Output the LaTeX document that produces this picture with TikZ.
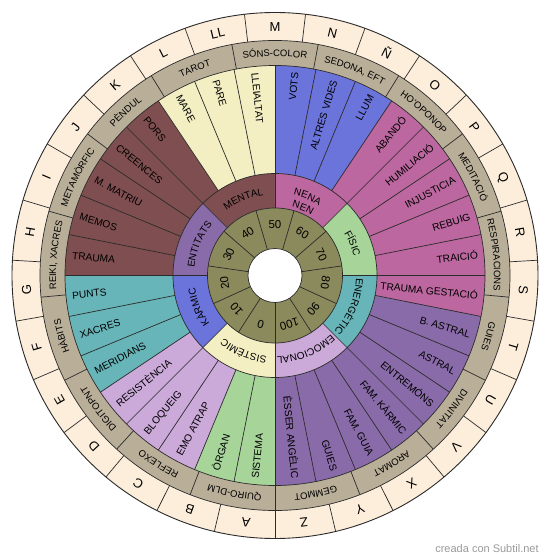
\documentclass[tikz,border=0pt]{standalone}
\usepackage{fontspec}
\setmainfont{Liberation Sans}
\usetikzlibrary{decorations.text}
\definecolor{letc}{HTML}{FCEEDB}
\definecolor{beigec}{HTML}{B9AE98}
\definecolor{creamc}{HTML}{F3EFC2}
\definecolor{maroonc}{HTML}{7F4E50}
\definecolor{bluec}{HTML}{6B74DB}
\definecolor{magc}{HTML}{BC679F}
\definecolor{purc}{HTML}{8A6BA9}
\definecolor{greenc}{HTML}{A6D499}
\definecolor{lilacc}{HTML}{CBA9D9}
\definecolor{tealc}{HTML}{68B5B9}
\definecolor{olivec}{HTML}{8B8A5D}
\definecolor{linec}{HTML}{2B2B2B}
\definecolor{wmc}{HTML}{9A9A9A}
\newcommand{\annseg}[5]{\fill[#1] (#4:#2pt) arc[start angle=#4,end angle=#5,radius=#2pt] -- (#5:#3pt) arc[start angle=#5,end angle=#4,radius=#3pt] -- cycle;}
\newcommand{\bfnt}{\fontsize{9.5}{9.5}\selectfont}
\newcommand{\mfnt}{\fontsize{10}{10}\selectfont}
\newcommand{\arclabel}[4]{\path[decorate,decoration={text along path,text align=center,text color=black,text={#4}}] ({#1+#3}:#2pt) arc[start angle={#1+#3},end angle={#1-#3},radius=#2pt];}
\tikzset{
  ln/.style={draw=linec,line width=0.7pt},
  letf/.style={font=\fontsize{13}{13}\selectfont,inner sep=0pt,text height=9.3pt,text depth=0pt},
  secf/.style={font=\fontsize{10.2}{10.2}\selectfont,inner sep=0pt,text height=7.3pt,text depth=0pt},
  numf/.style={font=\fontsize{11.5}{11.5}\selectfont,inner sep=0pt,text height=8.2pt,text depth=0pt},
  wmf/.style={font=\fontsize{11}{11}\selectfont,text=wmc,inner sep=0pt}
}
\begin{document}
\begin{tikzpicture}[x=1pt,y=1pt,line join=round]
\useasboundingbox (-275,-284.5) rectangle (275,275.5);
\fill[white] (-275,-284.5) rectangle (275,275.5);
% base rings
\fill[letc] (0,0) circle[radius=263pt];
\fill[beigec] (0,0) circle[radius=235pt];
% coloured sectors
\annseg{bluec}{102}{210}{90}{56.25}
\annseg{magc}{102}{210}{56.25}{-11.25}
\annseg{purc}{102}{210}{-11.25}{-90}
\annseg{greenc}{102}{210}{270}{247.5}
\annseg{lilacc}{102}{210}{247.5}{213.75}
\annseg{tealc}{102}{210}{213.75}{180}
\annseg{maroonc}{102}{210}{180}{123.75}
\annseg{creamc}{102}{210}{123.75}{90}
% middle ring
\annseg{maroonc}{67.5}{102}{135}{90}
\annseg{magc}{67.5}{102}{90}{45}
\annseg{greenc}{67.5}{102}{45}{0}
\annseg{tealc}{67.5}{102}{0}{-45}
\annseg{lilacc}{67.5}{102}{-45}{-90}
\annseg{creamc}{67.5}{102}{270}{225}
\annseg{bluec}{67.5}{102}{225}{180}
\annseg{purc}{67.5}{102}{180}{135}
% number ring and centre
\fill[olivec] (0,0) circle[radius=67.5pt];
\filldraw[fill=white,ln] (0,0) circle[radius=27pt];
% circles
\draw[ln] (0,0) circle[radius=67.5pt];
\draw[ln] (0,0) circle[radius=102pt];
\draw[ln] (0,0) circle[radius=210pt];
\draw[ln] (0,0) circle[radius=235pt];
\draw[draw=linec,line width=0.9pt] (0,0) circle[radius=263pt];
% dividing lines
\foreach \i in {0,...,26} {\draw[ln] ({270-13.33333*\i}:235pt) -- ({270-13.33333*\i}:263pt);}
\foreach \i in {0,...,16} {\draw[ln] ({270+21.17647*\i}:210pt) -- ({270+21.17647*\i}:235pt);}
\foreach \i in {0,...,31} {\draw[ln] ({90-11.25*\i}:102pt) -- ({90-11.25*\i}:210pt);}
\foreach \i in {0,...,7} {\draw[ln] ({45*\i}:67.5pt) -- ({45*\i}:102pt);}
\foreach \i in {0,...,10} {\draw[ln] ({270-32.72727*\i}:27pt) -- ({270-32.72727*\i}:67.5pt);}
% outer letters
\foreach \l [count=\i from 0] in {A,B,C,D,E,F,G,H,I,J,K,L,LL,M,N,Ñ,O,P,Q,R,S,T,U,V,X,Y,Z} {
  \pgfmathsetmacro\ang{263.33333-13.33333*\i}
  \pgfmathsetmacro\rot{\ang-90}
  \node[letf,rotate=\rot] (L\i) at (\ang:249pt) {\l};
}
% beige ring labels
\arclabel{90}{219}{15}{|\bfnt|SÓNS-COLOR}
\arclabel{68.8235}{219}{15}{|\bfnt|SEDONA, EFT}
\arclabel{47.6471}{219}{15}{|\bfnt|HO'OPONOP}
\arclabel{26.4706}{219}{15}{|\bfnt|MEDITACIÓ}
\arclabel{5.2941}{219}{15}{|\bfnt|RESPIRACIONS}
\arclabel{-15.8824}{219}{15}{|\bfnt|GUIES}
\arclabel{-37.0588}{219}{15}{|\bfnt|DIVINITAT}
\arclabel{-58.2353}{219}{15}{|\bfnt|AROMAT}
\arclabel{-79.4118}{219}{15}{|\bfnt|GEMMOT}
\arclabel{-100.5882}{219}{15}{|\bfnt|QUIRO-DLM}
\arclabel{-121.7647}{219}{15}{|\bfnt|REFLEXO}
\arclabel{-142.9412}{219}{15}{|\bfnt|DIGITOPNT}
\arclabel{-164.1176}{219}{15}{|\bfnt|HÀBITS}
\arclabel{174.7059}{219}{15}{|\bfnt|REIKI, XACRES}
\arclabel{153.5294}{219}{15}{|\bfnt|METAMÒRFIC}
\arclabel{132.3529}{219}{15}{|\bfnt|PÈNDUL}
\arclabel{111.1765}{219}{15}{|\bfnt|TAROT}
% sector labels, right half
\foreach \t [count=\i from 0] in {VOTS,ALTRES VIDES,LLUM,ABANDÓ,HUMILIACIÓ,INJUSTICIA,REBUIG,TRAICIÓ,TRAUMA GESTACIÓ,B. ASTRAL,ASTRAL,ENTREMÓNS,FAM. KÀRMIC,FAM. GUIA,GUIES,ÈSSER ANGÈLIC} {
  \pgfmathsetmacro\ang{84.375-11.25*\i}
  \node[secf,rotate=\ang,anchor=east] (R\i) at (\ang:204pt) {\t};
}
% sector labels, left half
\foreach \t [count=\i from 0] in {LLEIALTAT,PARE,MARE,PORS,CREENCES,M. MATRIU,MEMOS,TRAUMA,PUNTS,XACRES,MERIDIANS,RESISTÈNCIA,BLOQUEIG,EMO ATRAP,ÒRGAN,SISTEMA} {
  \pgfmathsetmacro\ang{95.625+11.25*\i}
  \pgfmathsetmacro\rot{\ang+180}
  \node[secf,rotate=\rot,anchor=west] (S\i) at (\ang:204pt) {\t};
}
% middle ring labels
\arclabel{112.5}{81}{30}{|\mfnt|MENTAL}
\arclabel{67.5}{82.5}{30}{|\mfnt|NENA}
\arclabel{67.5}{70.5}{30}{|\mfnt|NEN}
\arclabel{22.5}{81}{30}{|\mfnt|FÍSIC}
\arclabel{-22.5}{81}{30}{|\mfnt|ENERGÈTIC}
\arclabel{-67.5}{81}{30}{|\mfnt|EMOCIONAL}
\arclabel{-112.5}{81}{30}{|\mfnt|SISTÈMIC}
\arclabel{-157.5}{81}{30}{|\mfnt|KÀRMIC}
\arclabel{157.5}{81}{30}{|\mfnt|ENTITATS}
% numbers
\foreach \n [count=\i from 0] in {0,10,20,30,40,50,60,70,80,90,100} {
  \pgfmathsetmacro\ang{253.63636-32.72727*\i}
  \pgfmathsetmacro\rot{\ang-90}
  \node[numf,rotate=\rot] (N\i) at (\ang:51pt) {\n};
}
% watermark
\node[wmf] (wm) at (212,-273) {creada con Subtil.net};
\end{tikzpicture}
\end{document}
